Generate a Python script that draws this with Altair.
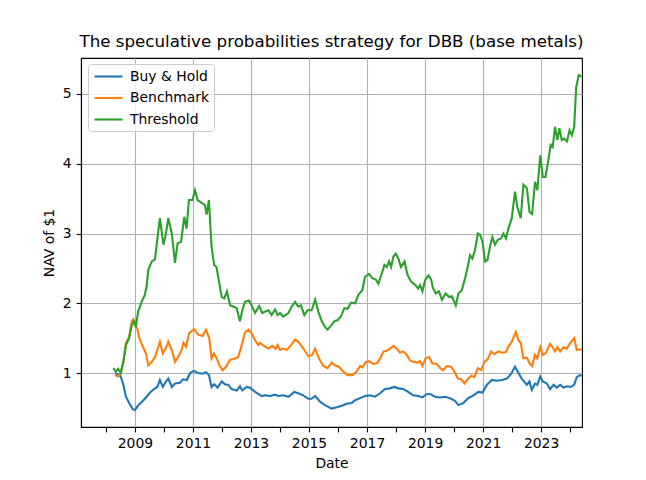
import altair as alt
import pandas as pd

SERIES = ["Buy & Hold", "Benchmark", "Threshold"]
COLORS = ["#1f77b4", "#ff7f0e", "#2ca02c"]

bh_year = [2008.31, 2008.42, 2008.51, 2008.60, 2008.69, 2008.80, 2008.93, 2009.00, 2009.12, 2009.27,
           2009.40, 2009.52, 2009.63, 2009.77, 2009.86, 2009.96, 2010.07, 2010.15, 2010.27, 2010.38,
           2010.55, 2010.66, 2010.79, 2010.90, 2011.03, 2011.18, 2011.33, 2011.45, 2011.55, 2011.64,
           2011.73, 2011.85, 2011.99, 2012.10, 2012.22, 2012.33, 2012.51, 2012.62, 2012.70, 2012.85,
           2012.97, 2013.14, 2013.37, 2013.48, 2013.66, 2013.83, 2013.94, 2014.11, 2014.29, 2014.49,
           2014.63, 2014.80, 2014.98, 2015.09, 2015.21, 2015.38, 2015.55, 2015.78, 2015.96, 2016.13,
           2016.30, 2016.47, 2016.59, 2016.76, 2016.93, 2017.10, 2017.28, 2017.45, 2017.62, 2017.79,
           2017.94, 2018.08, 2018.25, 2018.42, 2018.59, 2018.77, 2018.91, 2019.06, 2019.17, 2019.34,
           2019.52, 2019.69, 2019.86, 2020.03, 2020.15, 2020.32, 2020.49, 2020.67, 2020.84, 2020.98,
           2021.13, 2021.30, 2021.47, 2021.65, 2021.82, 2021.97, 2022.10, 2022.22, 2022.33, 2022.41,
           2022.51, 2022.60, 2022.68, 2022.79, 2022.87, 2022.97, 2023.06, 2023.20, 2023.31, 2023.43,
           2023.54, 2023.66, 2023.77, 2023.89, 2024.02, 2024.14, 2024.23, 2024.34, 2024.40]
bh_val = [1.00, 0.98, 0.95, 0.83, 0.66, 0.57, 0.48, 0.47, 0.54, 0.60,
          0.66, 0.72, 0.76, 0.80, 0.90, 0.80, 0.88, 0.92, 0.80, 0.85,
          0.86, 0.91, 0.90, 1.00, 1.03, 1.00, 0.99, 1.01, 0.97, 0.80,
          0.84, 0.79, 0.88, 0.84, 0.83, 0.77, 0.75, 0.81, 0.75, 0.80,
          0.79, 0.73, 0.67, 0.68, 0.67, 0.69, 0.67, 0.68, 0.66, 0.73,
          0.71, 0.68, 0.63, 0.63, 0.67, 0.59, 0.54, 0.49, 0.51, 0.53,
          0.56, 0.57, 0.61, 0.64, 0.67, 0.68, 0.66, 0.71, 0.77, 0.78,
          0.80, 0.78, 0.77, 0.73, 0.68, 0.67, 0.65, 0.70, 0.70, 0.66,
          0.65, 0.66, 0.64, 0.60, 0.54, 0.57, 0.64, 0.68, 0.73, 0.72,
          0.83, 0.90, 0.89, 0.90, 0.92, 0.99, 1.09, 1.00, 0.92, 0.88,
          0.83, 0.88, 0.76, 0.85, 0.83, 0.95, 0.88, 0.85, 0.77, 0.83,
          0.79, 0.83, 0.79, 0.81, 0.80, 0.83, 0.94, 0.97, 0.96]

bm_year = [2008.31, 2008.42, 2008.51, 2008.60, 2008.69, 2008.80, 2008.89, 2008.94, 2009.00, 2009.08,
           2009.15, 2009.27, 2009.38, 2009.46, 2009.58, 2009.69, 2009.77, 2009.86, 2009.96, 2010.06,
           2010.15, 2010.27, 2010.38, 2010.49, 2010.61, 2010.67, 2010.76, 2010.87, 2011.03, 2011.18,
           2011.33, 2011.45, 2011.56, 2011.64, 2011.72, 2011.82, 2011.91, 2012.02, 2012.14, 2012.28,
           2012.41, 2012.56, 2012.68, 2012.79, 2012.91, 2013.02, 2013.14, 2013.25, 2013.31, 2013.48,
           2013.60, 2013.73, 2013.85, 2013.92, 2014.00, 2014.11, 2014.23, 2014.38, 2014.52, 2014.63,
           2014.72, 2014.84, 2014.98, 2015.11, 2015.21, 2015.34, 2015.49, 2015.64, 2015.78, 2015.90,
           2016.03, 2016.18, 2016.33, 2016.49, 2016.64, 2016.76, 2016.84, 2016.96, 2017.07, 2017.22,
           2017.34, 2017.45, 2017.57, 2017.68, 2017.79, 2017.91, 2018.02, 2018.14, 2018.25, 2018.37,
           2018.48, 2018.59, 2018.71, 2018.83, 2018.91, 2019.02, 2019.14, 2019.25, 2019.40, 2019.52,
           2019.63, 2019.74, 2019.90, 2020.01, 2020.13, 2020.24, 2020.36, 2020.47, 2020.59, 2020.70,
           2020.82, 2020.93, 2021.05, 2021.16, 2021.28, 2021.39, 2021.53, 2021.66, 2021.79, 2021.87,
           2021.99, 2022.13, 2022.22, 2022.30, 2022.39, 2022.51, 2022.60, 2022.69, 2022.79, 2022.87,
           2022.97, 2023.06, 2023.17, 2023.31, 2023.40, 2023.48, 2023.56, 2023.66, 2023.77, 2023.89,
           2024.00, 2024.14, 2024.23, 2024.34, 2024.40]
bm_val = [0.97, 0.95, 1.00, 1.16, 1.43, 1.52, 1.74, 1.77, 1.69, 1.64,
          1.50, 1.38, 1.28, 1.11, 1.16, 1.23, 1.33, 1.45, 1.28, 1.35,
          1.45, 1.33, 1.16, 1.23, 1.33, 1.43, 1.38, 1.57, 1.63, 1.55,
          1.53, 1.62, 1.50, 1.21, 1.28, 1.21, 1.11, 1.04, 1.09, 1.19,
          1.20, 1.23, 1.40, 1.58, 1.62, 1.57, 1.47, 1.40, 1.43, 1.38,
          1.35, 1.39, 1.35, 1.40, 1.33, 1.35, 1.33, 1.40, 1.48, 1.45,
          1.40, 1.33, 1.24, 1.26, 1.35, 1.21, 1.10, 1.07, 1.15, 1.11,
          1.09, 1.02, 0.97, 0.97, 1.02, 1.10, 1.08, 1.16, 1.17, 1.13,
          1.14, 1.21, 1.31, 1.32, 1.35, 1.39, 1.35, 1.29, 1.31, 1.26,
          1.18, 1.16, 1.15, 1.17, 1.10, 1.21, 1.23, 1.14, 1.13, 1.07,
          1.04, 1.10, 1.09, 1.02, 0.92, 0.91, 0.85, 0.91, 0.96, 0.94,
          1.07, 1.04, 1.16, 1.20, 1.31, 1.27, 1.31, 1.29, 1.30, 1.38,
          1.45, 1.59, 1.47, 1.43, 1.21, 1.22, 1.14, 1.10, 1.26, 1.21,
          1.37, 1.26, 1.29, 1.42, 1.37, 1.31, 1.37, 1.31, 1.37, 1.35,
          1.43, 1.50, 1.33, 1.34, 1.33]

th_year = [2008.25, 2008.34, 2008.42, 2008.51, 2008.60, 2008.69, 2008.80, 2008.89, 2008.97, 2009.03,
           2009.11, 2009.23, 2009.34, 2009.40, 2009.46, 2009.58, 2009.69, 2009.78, 2009.86, 2009.98,
           2010.06, 2010.15, 2010.27, 2010.38, 2010.47, 2010.59, 2010.70, 2010.78, 2010.86, 2010.98,
           2011.07, 2011.16, 2011.30, 2011.41, 2011.47, 2011.55, 2011.64, 2011.73, 2011.81, 2011.89,
           2011.99, 2012.08, 2012.17, 2012.28, 2012.40, 2012.51, 2012.62, 2012.70, 2012.79, 2012.93,
           2013.02, 2013.14, 2013.28, 2013.39, 2013.48, 2013.60, 2013.71, 2013.83, 2013.92, 2014.00,
           2014.11, 2014.29, 2014.40, 2014.52, 2014.63, 2014.72, 2014.84, 2014.95, 2015.09, 2015.21,
           2015.32, 2015.44, 2015.55, 2015.64, 2015.78, 2015.87, 2015.99, 2016.10, 2016.22, 2016.33,
           2016.45, 2016.59, 2016.70, 2016.84, 2016.93, 2017.07, 2017.18, 2017.30, 2017.39, 2017.51,
           2017.60, 2017.68, 2017.76, 2017.83, 2017.91, 2017.99, 2018.08, 2018.17, 2018.29, 2018.40,
           2018.52, 2018.67, 2018.76, 2018.83, 2018.91, 2019.00, 2019.12, 2019.21, 2019.27, 2019.37,
           2019.48, 2019.58, 2019.71, 2019.83, 2019.92, 2020.06, 2020.15, 2020.27, 2020.38, 2020.47,
           2020.55, 2020.63, 2020.72, 2020.82, 2020.90, 2020.98, 2021.07, 2021.15, 2021.24, 2021.32,
           2021.41, 2021.51, 2021.62, 2021.70, 2021.79, 2021.87, 2021.99, 2022.10, 2022.18, 2022.30,
           2022.39, 2022.51, 2022.60, 2022.69, 2022.79, 2022.87, 2022.97, 2023.06, 2023.15, 2023.25,
           2023.33, 2023.40, 2023.48, 2023.56, 2023.63, 2023.71, 2023.79, 2023.89, 2023.98, 2024.06,
           2024.14, 2024.21, 2024.30, 2024.39]
th_val = [1.07, 1.02, 1.06, 1.00, 1.16, 1.40, 1.50, 1.69, 1.74, 1.66,
          1.88, 2.02, 2.12, 2.24, 2.48, 2.60, 2.63, 2.95, 3.22, 2.84,
          2.98, 3.22, 3.00, 2.58, 2.86, 2.88, 3.24, 3.07, 3.48, 3.48,
          3.62, 3.48, 3.44, 3.41, 3.27, 3.48, 2.81, 2.55, 2.52, 2.33,
          2.09, 2.07, 2.17, 1.97, 1.95, 1.93, 1.74, 1.90, 2.02, 2.04,
          1.97, 1.86, 1.96, 1.86, 1.88, 1.90, 1.83, 1.91, 1.83, 1.86,
          1.81, 1.86, 1.95, 2.02, 1.95, 1.97, 1.83, 1.90, 1.90, 2.05,
          1.88, 1.74, 1.66, 1.62, 1.69, 1.74, 1.76, 1.81, 1.93, 1.92,
          2.01, 2.00, 2.12, 2.19, 2.38, 2.42, 2.36, 2.34, 2.28, 2.43,
          2.55, 2.52, 2.60, 2.52, 2.67, 2.71, 2.64, 2.52, 2.60, 2.40,
          2.31, 2.26, 2.21, 2.26, 2.17, 2.33, 2.40, 2.34, 2.22, 2.14,
          2.17, 2.05, 2.14, 2.09, 2.10, 1.97, 2.14, 2.19, 2.36, 2.52,
          2.69, 2.64, 2.76, 3.00, 2.98, 2.88, 2.60, 2.62, 2.81, 2.95,
          2.84, 2.91, 2.93, 3.00, 2.93, 3.07, 3.22, 3.60, 3.38, 3.22,
          3.70, 3.65, 3.31, 3.28, 3.74, 3.62, 4.12, 3.81, 3.81, 4.05,
          4.27, 4.24, 4.53, 4.34, 4.51, 4.34, 4.36, 4.32, 4.48, 4.41,
          4.53, 5.10, 5.27, 5.25]

frames = []
for name, ys, vs in [(SERIES[0], bh_year, bh_val), (SERIES[1], bm_year, bm_val), (SERIES[2], th_year, th_val)]:
    frames.append(pd.DataFrame({"year": ys, "nav": vs, "series": name}))
df = pd.concat(frames, ignore_index=True)

FONT = "DejaVu Sans"

chart = alt.Chart(df).mark_line(strokeWidth=2.1, clip=True).encode(
    x=alt.X("year:Q",
            scale=alt.Scale(domain=[2007.14, 2024.41], nice=False, zero=False),
            axis=alt.Axis(values=list(range(2008, 2025)), format="d",
                          labelExpr="datum.value % 2 == 1 ? datum.label : ''",
                          gridOpacity={"condition": {"test": "datum.value % 2 == 0", "value": 0}, "value": 1},
                          title="Date")),
    y=alt.Y("nav:Q",
            scale=alt.Scale(domain=[0.226, 5.516], nice=False, zero=False),
            axis=alt.Axis(values=[1, 2, 3, 4, 5], title="NAV of $1")),
    color=alt.Color("series:N",
                    scale=alt.Scale(domain=SERIES, range=COLORS),
                    legend=alt.Legend(title=None, orient="none", legendX=7, legendY=6,
                                      symbolType="M-0.857,0L3.143,0", symbolSize=196, symbolStrokeWidth=2.1,
                                      labelFontSize=13.9, labelFont=FONT, labelColor="black",
                                      labelOffset=21, padding=4, rowPadding=5.5,
                                      fillColor="rgba(255,255,255,0.8)", strokeColor="#cccccc",
                                      cornerRadius=3)),
).properties(
    width=501, height=369,
    title=alt.TitleParams("The speculative probabilities strategy for DBB (base metals)",
                          fontSize=16.7, font=FONT, fontWeight="normal", color="black",
                          offset=7, anchor="middle"),
    autosize=alt.AutoSizeParams(type="none"),
    padding={"left": 73, "top": 50, "right": 50, "bottom": 45},
).configure_view(
    stroke="black", strokeWidth=1.1
).configure_axis(
    labelFont=FONT, titleFont=FONT, labelFontSize=13.9, titleFontSize=13.9,
    labelColor="black", titleColor="black", titleFontWeight="normal",
    domainColor="black", domainWidth=1.1, tickColor="black", tickWidth=1.1,
    tickSize=4.9, labelPadding=4.9, titlePadding=5.5,
    gridColor="#b0b0b0", gridWidth=1.1,
)

chart.save("out.html", embed_options={"renderer": "svg", "actions": False})
